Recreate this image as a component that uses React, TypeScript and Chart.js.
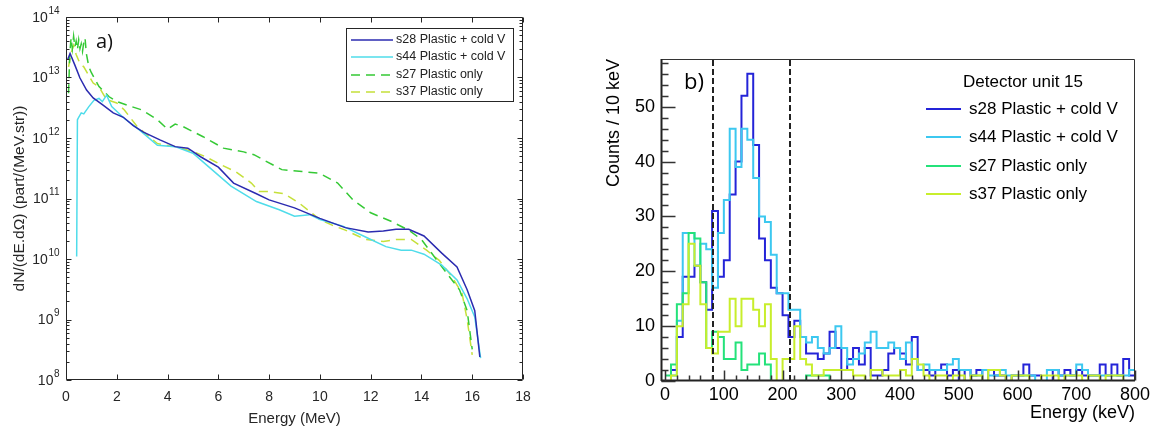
import React, { useEffect, useRef } from 'react';
import { Chart, registerables } from 'chart.js';

Chart.register(...registerables);

// ---------------- Panel a) : spectra (MeV, log scale) ----------------
const A_X_TICKS = [0, 2, 4, 6, 8, 10, 12, 14, 16, 18];
const A_Y_EXPONENTS = [8, 9, 10, 11, 12, 13, 14];

const S28_A_E = [0.07, 0.16, 0.35, 0.55, 0.81, 1.07, 1.46, 1.86, 2.26, 2.65, 3.05, 3.7, 4.3, 4.8, 5.3, 6.0, 6.6, 7.5, 8.0, 9.0, 10.0, 11.0, 11.9, 12.5, 13.0, 13.5, 14.1, 14.8, 15.4, 15.8, 16.1, 16.3];
const S28_A_V = [2.0e13, 2.5e13, 1.6e13, 9.8e12, 6.2e12, 4.6e12, 3.5e12, 2.6e12, 2.2e12, 1.6e12, 1.25e12, 9.3e11, 7.2e11, 6.8e11, 4.9e11, 3.3e11, 1.8e11, 1.2e11, 9.5e10, 7.0e10, 4.7e10, 3.3e10, 2.8e10, 2.9e10, 3.1e10, 3.1e10, 2.4e10, 1.25e10, 7.4e9, 3.1e9, 1.4e9, 2.4e8];

const S44_A_E = [0.42, 0.45, 0.5, 0.6, 0.7, 0.9, 1.1, 1.3, 1.43, 1.6, 1.8, 2.3, 2.9, 3.6, 4.3, 5.0, 5.6, 6.5, 7.5, 8.4, 9.0, 9.6, 10.0, 10.9, 11.9, 12.6, 13.2, 13.6, 14.1, 14.8, 15.4, 15.8, 16.1, 16.33];
const S44_A_V = [1.1e10, 2.0e12, 2.2e12, 2.6e12, 2.5e12, 3.3e12, 4.2e12, 4.5e12, 4.0e12, 5.1e12, 3.3e12, 2.1e12, 1.35e12, 7.6e11, 7.2e11, 5.6e11, 3.4e11, 1.6e11, 8.9e10, 6.5e10, 5.1e10, 5.4e10, 4.5e10, 3.5e10, 2.2e10, 1.6e10, 1.4e10, 1.4e10, 1.2e10, 7.9e9, 4.5e9, 2.2e9, 1.1e9, 2.3e8];

const S27_A_E = [0.1, 0.15, 0.2, 0.25, 0.3, 0.35, 0.4, 0.45, 0.5, 0.55, 0.6, 0.65, 0.7, 0.75, 0.8, 0.9, 1.0, 1.3, 1.7, 2.0, 2.4, 3.0, 3.6, 4.0, 4.3, 4.6, 5.4, 6.2, 7.0, 7.4, 7.8, 8.5, 9.3, 10.0, 10.7, 11.3, 12.0, 12.8, 13.5, 14.0, 14.5, 15.0, 15.5, 15.8, 16.0];
const S27_A_V = [5.5e12, 2.5e13, 4.5e13, 3.0e13, 4.8e13, 3.2e13, 4.0e13, 2.9e13, 4.2e13, 3.0e13, 3.6e13, 2.7e13, 3.8e13, 4.5e13, 2.5e13, 1.5e13, 1.2e13, 7.1e12, 4.8e12, 4.0e12, 3.5e12, 2.9e12, 2.0e12, 1.4e12, 1.7e12, 1.55e12, 1.05e12, 6.8e11, 5.9e11, 5.3e11, 4.3e11, 3.0e11, 2.8e11, 2.6e11, 1.8e11, 9.5e10, 5.8e10, 4.2e10, 3.0e10, 2.1e10, 1.1e10, 5.8e9, 3.1e9, 1.4e9, 3.2e8];

const S37_A_E = [0.1, 0.2, 0.3, 0.4, 0.55, 0.7, 1.07, 1.3, 1.6, 2.0, 2.3, 2.8, 3.6, 4.3, 5.0, 5.5, 6.0, 6.7, 7.3, 7.6, 8.0, 8.6, 9.2, 10.0, 10.5, 11.0, 11.8, 12.5, 13.0, 13.6, 14.2, 14.7, 15.2, 15.6, 15.8, 16.0];
const S37_A_V = [1.5e13, 2.5e13, 3.4e13, 2.4e13, 1.7e13, 1.5e13, 8.1e12, 7.0e12, 4.3e12, 3.8e12, 2.9e12, 1.55e12, 8.1e11, 7.2e11, 6.0e11, 4.9e11, 3.8e11, 2.75e11, 1.8e11, 1.3e11, 1.3e11, 1.2e11, 8.3e10, 4.5e10, 3.6e10, 3.0e10, 2.1e10, 1.95e10, 2.1e10, 2.1e10, 1.4e10, 9.5e9, 5.1e9, 2.7e9, 1.0e9, 2.6e8];

const A_LABELS = ['s28 Plastic + cold V', 's44 Plastic + cold V', 's27 Plastic only', 's37 Plastic only'];

// ---------------- Panel b) : histograms (counts per 10 keV) ----------------
const B_BIN_KEV = 10;
const B_X_TICKS = [0, 100, 200, 300, 400, 500, 600, 700, 800];
const B_Y_TICKS = [0, 10, 20, 30, 40, 50];
const B_CUTS_KEV = [81, 212];

const S28_B = [0, 2, 8, 19, 19, 21, 18, 13, 31, 19, 22, 34, 40, 52, 56, 43, 26, 22, 17, 16, 12, 8, 11, 8, 5, 5, 4, 5, 9, 6, 2, 4, 6, 3, 6, 1, 1, 2, 5, 6, 5, 3, 8, 2, 2, 1, 2, 3, 1, 2, 0, 2, 1, 2, 0, 2, 1, 1, 0, 1, 1, 3, 1, 1, 0, 0, 2, 1, 2, 1, 2, 1, 1, 1, 3, 1, 3, 1, 4, 1];
const S44_B = [0, 1, 11, 27, 27, 21, 25, 24, 17, 27, 33, 46, 39, 46, 44, 37, 30, 29, 23, 16, 16, 13, 13, 8, 7, 8, 6, 5, 6, 10, 6, 3, 4, 5, 7, 9, 6, 6, 7, 6, 4, 7, 4, 2, 3, 2, 2, 2, 3, 4, 2, 2, 1, 1, 2, 1, 1, 2, 1, 1, 1, 1, 1, 0, 0, 2, 2, 1, 1, 1, 3, 2, 1, 1, 1, 1, 1, 1, 1, 2];
const S27_B = [1, 3, 14, 16, 27, 26, 18, 6, 9, 8, 4, 4, 7, 2, 3, 3, 5, 3, 0, 0, 0, 0, 0, 0, 1, 1, 1, 1, 0, 0, 0, 0, 0, 0, 0, 0, 0, 0, 0, 0, 0, 0, 0, 0, 0, 0, 0, 0, 0, 0, 0, 0, 0, 0, 0, 0, 0, 0, 0, 0, 0, 0, 0, 0, 0, 0, 0, 0, 0, 0, 0, 0, 0, 0, 0, 0, 0, 0, 0, 0];
const S37_B = [0, 1, 10, 14, 25, 21, 14, 6, 5, 9, 9, 15, 10, 15, 15, 13, 10, 14, 4, 0, 4, 4, 10, 4, 3, 1, 1, 2, 2, 2, 2, 2, 1, 1, 0, 2, 2, 1, 1, 1, 2, 1, 4, 3, 1, 0, 1, 1, 0, 1, 1, 0, 1, 1, 0, 2, 2, 1, 0, 1, 1, 1, 0, 0, 1, 1, 1, 0, 1, 1, 1, 0, 1, 1, 0, 1, 1, 1, 0, 0];

const B_LABELS = ['s28 Plastic + cold V', 's44 Plastic + cold V', 's27 Plastic only', 's37 Plastic only'];

// ---------------- styles ----------------
const FONT = '"Liberation Sans", Arial, Helvetica, sans-serif';
const ANNOT_FONT = '"Open Sans", "Liberation Sans", sans-serif';
const A_COLORS = ['#2b2bb0', '#4fdcea', '#35c935', '#c5e03a'];
const A_DASH: number[][] = [[], [], [9, 6], [9, 6]];
const B_COLORS = ['#2424d8', '#3cc8f0', '#24e27a', '#c8ee2c'];
const B_ORDER = [3, 2, 1, 0];

const pairs = (xs: number[], ys: number[]) => xs.map((x, i) => ({ x, y: ys[i] }));
const histPoints = (counts: number[]) => {
  const pts = counts.map((c, i) => ({ x: i * B_BIN_KEV, y: c }));
  pts.push({ x: counts.length * B_BIN_KEV, y: counts[counts.length - 1] });
  return pts;
};

const leftDeco = {
  id: 'leftDeco',
  afterDraw(chart: any) {
    const { ctx, chartArea: a } = chart;
    const xs = chart.scales.x;
    const ys = chart.scales.y;
    ctx.save();
    ctx.strokeStyle = '#262626';
    ctx.lineWidth = 1;
    const L = Math.round(a.left) + 0.5;
    const R = Math.round(a.right) - 0.5;
    const T = Math.round(a.top) + 0.5;
    const B = Math.round(a.bottom) - 0.5;
    ctx.beginPath();
    ctx.rect(L, T, R - L, B - T);
    for (const v of A_X_TICKS) {
      const px = Math.round(xs.getPixelForValue(v)) + 0.5;
      ctx.moveTo(px, B); ctx.lineTo(px, B - 5);
      ctx.moveTo(px, T); ctx.lineTo(px, T + 5);
    }
    const eMin = A_Y_EXPONENTS[0];
    const eMax = A_Y_EXPONENTS[A_Y_EXPONENTS.length - 1];
    for (let e = eMin; e <= eMax; e++) {
      for (let m = 1; m <= 9; m++) {
        if (e === eMax && m > 1) break;
        const py = Math.round(ys.getPixelForValue(m * Math.pow(10, e))) + 0.5;
        const len = m === 1 ? 5 : 3;
        ctx.moveTo(L, py); ctx.lineTo(L + len, py);
        ctx.moveTo(R, py); ctx.lineTo(R - len, py);
      }
    }
    ctx.stroke();

    // y tick labels: 10 with raised exponent
    ctx.fillStyle = '#262626';
    ctx.textAlign = 'right';
    ctx.textBaseline = 'middle';
    for (const e of A_Y_EXPONENTS) {
      const py = ys.getPixelForValue(Math.pow(10, e));
      const expStr = String(e);
      ctx.font = `10px ${FONT}`;
      const ew = ctx.measureText(expStr).width;
      ctx.fillText(expStr, 59.5, py - 6);
      ctx.font = `14px ${FONT}`;
      ctx.fillText('10', 59.5 - ew - 0.5, py + 1);
    }

    // legend
    const lx = 346.5, ly = 28.5, lw = 167, lh = 73;
    ctx.fillStyle = '#ffffff';
    ctx.fillRect(lx, ly, lw, lh);
    ctx.strokeStyle = '#262626';
    ctx.strokeRect(lx, ly, lw, lh);
    const rows = [40, 57, 75, 92];
    ctx.font = `12.5px ${FONT}`;
    ctx.textBaseline = 'middle';
    ctx.textAlign = 'left';
    chart.data.datasets.forEach((ds: any, i: number) => {
      ctx.beginPath();
      ctx.strokeStyle = ds.borderColor;
      ctx.lineWidth = 1.5;
      ctx.setLineDash(ds.borderDash || []);
      ctx.moveTo(351, rows[i]);
      ctx.lineTo(393, rows[i]);
      ctx.stroke();
      ctx.setLineDash([]);
      ctx.fillStyle = '#222222';
      ctx.fillText(ds.label, 396, rows[i]);
    });

    ctx.font = `20px ${ANNOT_FONT}`;
    ctx.fillStyle = '#111111';
    ctx.fillText('a)', 96, 42);
    ctx.restore();
  },
};

const rightDeco = {
  id: 'rightDeco',
  afterDatasetsDraw(chart: any) {
    const { ctx, chartArea: a } = chart;
    const xs = chart.scales.x;
    ctx.save();
    ctx.strokeStyle = '#222222';
    ctx.lineWidth = 2;
    ctx.setLineDash([6, 3]);
    for (const c of B_CUTS_KEV) {
      const px = Math.round(xs.getPixelForValue(c));
      ctx.beginPath();
      ctx.moveTo(px, a.top + 1);
      ctx.lineTo(px, a.bottom);
      ctx.stroke();
    }
    ctx.restore();
  },
  afterDraw(chart: any) {
    const { ctx, chartArea: a } = chart;
    const xs = chart.scales.x;
    const ys = chart.scales.y;
    ctx.save();
    const L = Math.round(a.left) + 0.5;
    const R = Math.round(a.right) - 0.5;
    const T = Math.round(a.top) + 0.5;
    const B = Math.round(a.bottom) - 0.5;
    ctx.strokeStyle = '#333333';
    ctx.lineWidth = 1;
    ctx.beginPath();
    ctx.rect(L, T, R - L, B - T);
    ctx.stroke();
    ctx.strokeStyle = '#222222';
    ctx.lineWidth = 2;
    ctx.beginPath();
    ctx.moveTo(a.left, B); ctx.lineTo(a.right, B);
    ctx.moveTo(L, a.top); ctx.lineTo(L, a.bottom);
    ctx.stroke();
    ctx.lineWidth = 1.5;
    ctx.strokeStyle = '#333333';
    ctx.beginPath();
    for (let v = 0; v <= ys.max; v += 2) {
      const py = Math.round(ys.getPixelForValue(v)) + 0.5;
      const len = v % 10 === 0 ? 14 : 7;
      ctx.moveTo(L, py); ctx.lineTo(L + len, py);
    }
    for (let v = 0; v <= 800; v += 20) {
      const px = Math.round(xs.getPixelForValue(v)) + 0.5;
      const len = v % 100 === 0 ? 10 : 5;
      ctx.moveTo(px, B); ctx.lineTo(px, B - len);
    }
    ctx.stroke();

    // legend
    ctx.textBaseline = 'middle';
    ctx.textAlign = 'left';
    ctx.fillStyle = '#000000';
    ctx.font = `17px ${FONT}`;
    ctx.fillText('Detector unit 15', 383, 82);
    const rows = [109, 137, 166, 194];
    chart.data.datasets.forEach((ds: any, i: number) => {
      ctx.beginPath();
      ctx.strokeStyle = ds.borderColor;
      ctx.lineWidth = 2;
      ctx.moveTo(346, rows[i]);
      ctx.lineTo(381, rows[i]);
      ctx.stroke();
      ctx.fillStyle = '#000000';
      ctx.fillText(ds.label, 389, rows[i]);
    });

    ctx.font = `22px ${ANNOT_FONT}`;
    ctx.fillStyle = '#000000';
    ctx.fillText('b)', 104, 83);
    ctx.restore();
  },
};

export default function App() {
  const leftRef = useRef<HTMLCanvasElement>(null);
  const rightRef = useRef<HTMLCanvasElement>(null);

  useEffect(() => {
    const aSeries = [
      pairs(S28_A_E, S28_A_V),
      pairs(S44_A_E, S44_A_V),
      pairs(S27_A_E, S27_A_V),
      pairs(S37_A_E, S37_A_V),
    ];
    const left = new Chart(leftRef.current as HTMLCanvasElement, {
      type: 'line',
      data: {
        datasets: aSeries.map((d, i) => ({
          label: A_LABELS[i],
          data: d,
          borderColor: A_COLORS[i],
          borderDash: A_DASH[i],
          borderWidth: 1.5,
          pointRadius: 0,
          fill: false,
          tension: 0,
        })),
      },
      options: {
        animation: false,
        responsive: false,
        layout: { padding: { top: 17, right: 57, left: 0, bottom: 0 } },
        plugins: { legend: { display: false }, tooltip: { enabled: false } },
        scales: {
          x: {
            type: 'linear',
            min: 0,
            max: 18,
            afterBuildTicks: (s: any) => { s.ticks = A_X_TICKS.map((v) => ({ value: v })); },
            afterFit: (s: any) => { s.height = 48; },
            grid: { display: false, drawTicks: false },
            border: { display: false },
            ticks: { font: { family: FONT, size: 14 }, color: '#262626', padding: 9, maxRotation: 0, autoSkip: false },
            title: { display: true, text: 'Energy (MeV)', font: { family: FONT, size: 15 }, color: '#262626', padding: { top: 0, bottom: 0 } },
          },
          y: {
            type: 'logarithmic',
            min: 1e8,
            max: 1e14,
            afterBuildTicks: (s: any) => { s.ticks = A_Y_EXPONENTS.map((e) => ({ value: Math.pow(10, e) })); },
            afterFit: (s: any) => { s.width = 66; },
            grid: { display: false, drawTicks: false },
            border: { display: false },
            ticks: { display: false },
            title: { display: true, text: 'dN/(dE.dΩ) (part/(MeV.str))', font: { family: FONT, size: 15.5 }, color: '#262626', padding: { top: 10, bottom: 0 } },
          },
        },
      } as any,
      plugins: [leftDeco],
    });

    const bSeries = [S28_B, S44_B, S27_B, S37_B];
    const right = new Chart(rightRef.current as HTMLCanvasElement, {
      type: 'line',
      data: {
        datasets: bSeries.map((d, i) => ({
          label: B_LABELS[i],
          data: histPoints(d),
          borderColor: B_COLORS[i],
          borderWidth: 2,
          pointRadius: 0,
          fill: false,
          stepped: 'before',
          order: B_ORDER[i],
        })),
      },
      options: {
        animation: false,
        responsive: false,
        layout: { padding: { top: 59, right: 15, left: 0, bottom: 0 } },
        plugins: { legend: { display: false }, tooltip: { enabled: false } },
        scales: {
          x: {
            type: 'linear',
            min: -7,
            max: 800,
            afterBuildTicks: (s: any) => { s.ticks = B_X_TICKS.map((v) => ({ value: v })); },
            afterFit: (s: any) => { s.height = 47; },
            grid: { display: false, drawTicks: false },
            border: { display: false },
            ticks: { font: { family: FONT, size: 18 }, color: '#000000', padding: 3, maxRotation: 0, autoSkip: false },
            title: { display: true, text: 'Energy (keV)', align: 'end', font: { family: FONT, size: 18 }, color: '#000000', padding: { top: 0, bottom: 4 } },
          },
          y: {
            type: 'linear',
            min: 0,
            max: 58.7,
            afterBuildTicks: (s: any) => { s.ticks = B_Y_TICKS.map((v) => ({ value: v })); },
            afterFit: (s: any) => { s.width = 81; },
            grid: { display: false, drawTicks: false },
            border: { display: false },
            ticks: { font: { family: FONT, size: 18 }, color: '#000000', padding: 6, autoSkip: false },
            title: { display: true, text: 'Counts / 10 keV', align: 'end', font: { family: FONT, size: 18 }, color: '#000000', padding: { top: 23, bottom: 0 } },
          },
        },
      } as any,
      plugins: [rightDeco],
    });

    return () => {
      left.destroy();
      right.destroy();
    };
  }, []);

  return (
    <div style={{ position: 'absolute', left: 0, top: 0, width: 1153, height: 428, background: '#ffffff', overflow: 'hidden' }}>
      <canvas ref={leftRef} width={580} height={428} style={{ position: 'absolute', left: 0, top: 0 }} />
      <canvas ref={rightRef} width={573} height={428} style={{ position: 'absolute', left: 580, top: 0 }} />
    </div>
  );
}
